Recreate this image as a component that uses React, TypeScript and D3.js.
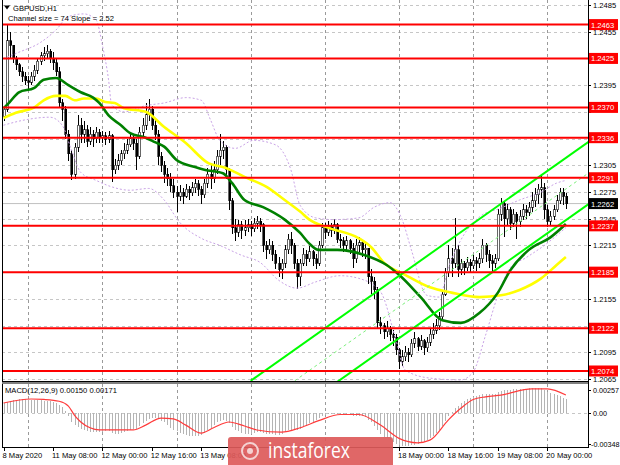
import React from 'react';
import * as d3 from 'd3';

// GBPUSD H1, 8 May 2020 16:00 .. 20 May 2020 06:00 (one value per hourly bar)
const firstOpen = 1.2360;
const closes = [
  1.2368, 1.2445, 1.2440, 1.2425, 1.2418, 1.2410, 1.2405, 1.2400, 1.2398, 1.2405,
  1.2412, 1.2422, 1.2428, 1.2430, 1.2433, 1.2425, 1.2420, 1.2410, 1.2375, 1.2368,
  1.2340, 1.2318, 1.2295, 1.2325, 1.2350, 1.2340, 1.2345, 1.2332, 1.2340, 1.2335,
  1.2342, 1.2336, 1.2338, 1.2334, 1.2338, 1.2300, 1.2305, 1.2310, 1.2318, 1.2322,
  1.2328, 1.2335, 1.2330, 1.2315, 1.2342, 1.2350, 1.2362, 1.2368, 1.2350, 1.2340,
  1.2315, 1.2305, 1.2295, 1.2290, 1.2282, 1.2275, 1.2270, 1.2275, 1.2270, 1.2278,
  1.2274, 1.2280, 1.2284, 1.2278, 1.2272, 1.2285, 1.2295, 1.2290, 1.2300, 1.2315,
  1.2322, 1.2325, 1.2300, 1.2265, 1.2235, 1.2230, 1.2238, 1.2232, 1.2235, 1.2238,
  1.2234, 1.2240, 1.2242, 1.2238, 1.2215, 1.2210, 1.2215, 1.2205, 1.2195, 1.2188,
  1.2195, 1.2210, 1.2222, 1.2215, 1.2195, 1.2180, 1.2195, 1.2205, 1.2200, 1.2208,
  1.2200, 1.2195, 1.2215, 1.2235, 1.2230, 1.2236, 1.2232, 1.2238, 1.2222, 1.2220,
  1.2215, 1.2220, 1.2212, 1.2200, 1.2215, 1.2218, 1.2210, 1.2212, 1.2180, 1.2175,
  1.2165, 1.2128, 1.2125, 1.2118, 1.2122, 1.2115, 1.2112, 1.2098, 1.2085, 1.2090,
  1.2095, 1.2092, 1.2105, 1.2110, 1.2102, 1.2108, 1.2100, 1.2106, 1.2115, 1.2120,
  1.2125, 1.2135, 1.2160, 1.2185, 1.2200, 1.2195, 1.2210, 1.2188, 1.2195, 1.2190,
  1.2196, 1.2192, 1.2198, 1.2195, 1.2200, 1.2215, 1.2205, 1.2198, 1.2195, 1.2200,
  1.2250, 1.2262, 1.2245, 1.2255, 1.2240, 1.2250, 1.2242, 1.2248, 1.2255, 1.2252,
  1.2258, 1.2265, 1.2272, 1.2278, 1.2280, 1.2255, 1.2242, 1.2248, 1.2255, 1.2265,
  1.2275, 1.2270, 1.2262,
];
const highs = [
  1.2372, 1.2462, 1.2455, 1.2440, 1.2428, 1.2420, 1.2415, 1.2410, 1.2405, 1.2410,
  1.2418, 1.2426, 1.2432, 1.2438, 1.2440, 1.2436, 1.2432, 1.2425, 1.2415, 1.2380,
  1.2372, 1.2345, 1.2322, 1.2330, 1.2362, 1.2358, 1.2355, 1.2350, 1.2348, 1.2345,
  1.2348, 1.2346, 1.2344, 1.2342, 1.2344, 1.2340, 1.2312, 1.2318, 1.2322, 1.2330,
  1.2334, 1.2340, 1.2338, 1.2335, 1.2348, 1.2358, 1.2375, 1.2380, 1.2372, 1.2356,
  1.2345, 1.2320, 1.2310, 1.2302, 1.2296, 1.2290, 1.2282, 1.2283, 1.2280, 1.2284,
  1.2282, 1.2286, 1.2290, 1.2288, 1.2282, 1.2290, 1.2302, 1.2305, 1.2310, 1.2322,
  1.2340, 1.2332, 1.2328, 1.2302, 1.2268, 1.2245, 1.2244, 1.2242, 1.2243, 1.2245,
  1.2242, 1.2246, 1.2248, 1.2246, 1.2240, 1.2220, 1.2222, 1.2220, 1.2210, 1.2202,
  1.2200, 1.2215, 1.2228, 1.2230, 1.2218, 1.2200, 1.2200, 1.2212, 1.2210, 1.2214,
  1.2210, 1.2205, 1.2220, 1.2240, 1.2240, 1.2242, 1.2240, 1.2245, 1.2240, 1.2228,
  1.2225, 1.2226, 1.2222, 1.2218, 1.2222, 1.2225, 1.2220, 1.2218, 1.2212, 1.2188,
  1.2180, 1.2168, 1.2135, 1.2128, 1.2130, 1.2125, 1.2120, 1.2115, 1.2100, 1.2098,
  1.2102, 1.2100, 1.2110, 1.2118, 1.2112, 1.2114, 1.2110, 1.2112, 1.2122, 1.2128,
  1.2132, 1.2140, 1.2165, 1.2190, 1.2215, 1.2212, 1.2246, 1.2215, 1.2200, 1.2198,
  1.2202, 1.2200, 1.2204, 1.2202, 1.2206, 1.2222, 1.2218, 1.2210, 1.2204, 1.2205,
  1.2256, 1.2268, 1.2265, 1.2262, 1.2258, 1.2256, 1.2252, 1.2255, 1.2262, 1.2260,
  1.2264, 1.2275, 1.2280, 1.2284, 1.2294, 1.2285, 1.2260, 1.2254, 1.2260, 1.2272,
  1.2280, 1.2280, 1.2274,
];
const lows = [
  1.2355, 1.2365, 1.2425, 1.2420, 1.2412, 1.2405, 1.2398, 1.2395, 1.2390, 1.2395,
  1.2400, 1.2408, 1.2418, 1.2422, 1.2425, 1.2420, 1.2412, 1.2405, 1.2370, 1.2355,
  1.2335, 1.2310, 1.2288, 1.2290, 1.2320, 1.2330, 1.2330, 1.2325, 1.2328, 1.2325,
  1.2330, 1.2330, 1.2330, 1.2328, 1.2330, 1.2286, 1.2295, 1.2300, 1.2305, 1.2312,
  1.2318, 1.2325, 1.2322, 1.2300, 1.2312, 1.2338, 1.2345, 1.2355, 1.2345, 1.2333,
  1.2305, 1.2298, 1.2285, 1.2282, 1.2275, 1.2268, 1.2252, 1.2265, 1.2262, 1.2268,
  1.2266, 1.2270, 1.2274, 1.2270, 1.2262, 1.2268, 1.2280, 1.2278, 1.2285, 1.2295,
  1.2305, 1.2312, 1.2290, 1.2255, 1.2228, 1.2220, 1.2225, 1.2222, 1.2226, 1.2230,
  1.2226, 1.2230, 1.2234, 1.2230, 1.2208, 1.2200, 1.2205, 1.2198, 1.2188, 1.2180,
  1.2177, 1.2190, 1.2205, 1.2205, 1.2188, 1.2166, 1.2170, 1.2192, 1.2192, 1.2196,
  1.2192, 1.2188, 1.2192, 1.2212, 1.2222, 1.2226, 1.2225, 1.2228, 1.2218, 1.2212,
  1.2208, 1.2210, 1.2205, 1.2190, 1.2195, 1.2208, 1.2202, 1.2200, 1.2172, 1.2160,
  1.2155, 1.2122, 1.2115, 1.2110, 1.2112, 1.2108, 1.2102, 1.2092, 1.2076, 1.2080,
  1.2085, 1.2084, 1.2090, 1.2100, 1.2096, 1.2098, 1.2092, 1.2095, 1.2102, 1.2110,
  1.2115, 1.2120, 1.2132, 1.2158, 1.2180, 1.2180, 1.2190, 1.2180, 1.2182, 1.2182,
  1.2186, 1.2185, 1.2188, 1.2186, 1.2190, 1.2195, 1.2196, 1.2190, 1.2186, 1.2190,
  1.2198, 1.2242, 1.2225, 1.2238, 1.2232, 1.2236, 1.2222, 1.2236, 1.2244, 1.2245,
  1.2248, 1.2252, 1.2258, 1.2262, 1.2268, 1.2245, 1.2236, 1.2238, 1.2244, 1.2252,
  1.2262, 1.2260, 1.2256,
];

// horizontal support / resistance levels
const levels = [1.2463, 1.2425, 1.2370, 1.2336, 1.2291, 1.2237, 1.2185, 1.2122, 1.2074];
const lastPrice = 1.2262;
const priceTicks = [
  1.2485, 1.2455, 1.2425, 1.2395, 1.2365, 1.2335, 1.2305, 1.2275,
  1.2245, 1.2215, 1.2185, 1.2155, 1.2125, 1.2095, 1.2065,
];

// time labels that are not hidden by the watermark
const timeLabels = [
  '8 May 2020', '11 May 08:00', '12 May 00:00', '12 May 16:00', '13 May 08:00',
  '18 May 00:00', '18 May 16:00', '19 May 08:00', '20 May 00:00',
];
const timeLabelBars = [0, 16, 32, 48, 64, 128, 144, 160, 176];
const dayStartBars = [8, 32, 56, 80, 104, 128, 152, 176];

// moving averages, read as [bar, price]
const maGreen: [number, number][] = [
  [0, 1.2369], [2, 1.2376], [5, 1.2387], [10, 1.2392], [13, 1.2401], [17, 1.2403], [21, 1.2395],
  [25, 1.2387], [29, 1.2381], [31, 1.2375], [34, 1.2361], [38, 1.2350], [41, 1.2341], [46, 1.2336],
  [49, 1.2331], [52, 1.2326], [56, 1.2311], [62, 1.2303], [65, 1.2300], [71, 1.2296], [74, 1.2285],
  [78, 1.2266], [84, 1.2258], [91, 1.2244], [96, 1.2229], [99, 1.2217], [102, 1.2210], [108, 1.2210],
  [117, 1.2204], [124, 1.2193], [128, 1.2182], [135, 1.2157], [142, 1.2131], [148, 1.2128],
  [154, 1.2139], [160, 1.2162], [164, 1.2187], [170, 1.2210], [177, 1.2224], [182, 1.2239],
];
const maYellow: [number, number][] = [
  [0, 1.2358], [4, 1.2364], [10, 1.2370], [13, 1.2378], [17, 1.2383], [20, 1.2383], [23, 1.2378],
  [26, 1.2380], [30, 1.2380], [33, 1.2376], [36, 1.2375], [39, 1.2369], [46, 1.2365], [52, 1.2348],
  [59, 1.2330], [66, 1.2308], [72, 1.2302], [78, 1.2292], [85, 1.2281], [91, 1.2266], [96, 1.2253],
  [99, 1.2244], [105, 1.2235], [115, 1.2223], [119, 1.2213], [123, 1.2196], [130, 1.2182],
  [138, 1.2168], [145, 1.2162], [154, 1.2157], [161, 1.2159], [167, 1.2165], [174, 1.2178],
  [179, 1.2193], [182, 1.2202],
];
// dotted bands, [bar, price]
const bandUpper: [number, number][] = [
  [0, 1.2425], [5, 1.2432], [12, 1.2443], [17, 1.2457], [21, 1.2472], [26, 1.2475], [30, 1.2468],
  [32, 1.2440], [34, 1.2401], [35, 1.2373], [39, 1.2365], [46, 1.2372], [52, 1.2375], [59, 1.2381],
  [64, 1.2378], [67, 1.2356], [70, 1.2333], [75, 1.2324], [81, 1.2333], [88, 1.2328], [93, 1.2300],
  [96, 1.2260], [101, 1.2246], [107, 1.2244], [115, 1.2246], [120, 1.2258], [125, 1.2263],
  [129, 1.2244], [132, 1.2210], [137, 1.2159], [141, 1.2157], [144, 1.2190], [149, 1.2227],
  [154, 1.2247], [161, 1.2257], [167, 1.2266], [174, 1.2275], [179, 1.2285], [182, 1.2288],
];
const bandLower: [number, number][] = [
  [0, 1.2350], [7, 1.2356], [15, 1.2359], [19, 1.2350], [22, 1.2322], [25, 1.2297], [30, 1.2288],
  [34, 1.2282], [41, 1.2277], [47, 1.2279], [52, 1.2266], [57, 1.2241], [64, 1.2223], [70, 1.2215],
  [77, 1.2204], [83, 1.2196], [89, 1.2176], [95, 1.2167], [101, 1.2174], [109, 1.2181],
  [115, 1.2178], [122, 1.2163], [127, 1.2109], [130, 1.2075], [138, 1.2066], [148, 1.2064],
  [152, 1.2073], [156, 1.2114], [160, 1.2159], [164, 1.2190], [169, 1.2201], [175, 1.2215],
  [182, 1.2235],
];
// regression channel: upper edge at two bars, width in price
const channelBars = [80, 190];
const channelTop = [1.2063, 1.2333];
const channelWidth = 0.0070;

// MACD(12,26,9): main line per bar and signal, in units of 0.0001
const macdMain = [
  11, 12, 13, 14, 14, 15, 15, 15, 14, 14,
  14, 14, 14, 13, 13, 13, 12, 11, 9, 6,
  2, -4, -10, -14, -16, -18, -20, -21, -22, -22,
  -22, -22, -22, -21, -21, -23, -24, -24, -23, -22,
  -21, -19, -18, -18, -15, -12, -9, -7, -6, -6,
  -7, -9, -11, -14, -17, -19, -21, -23, -24, -25,
  -26, -26, -26, -26, -25, -23, -20, -17, -14, -11,
  -9, -8, -9, -12, -16, -19, -21, -23, -24, -24,
  -24, -23, -22, -22, -23, -24, -24, -24, -25, -25,
  -24, -22, -20, -19, -19, -19, -18, -16, -14, -12,
  -10, -8, -6, -4, -3, -2, -2, -2, -2, -3,
  -3, -3, -3, -4, -4, -4, -4, -5, -8, -11,
  -15, -20, -24, -27, -29, -31, -33, -35, -37, -38,
  -38, -38, -37, -36, -35, -34, -33, -31, -29, -26,
  -23, -19, -15, -9, -4, 1, 5, 8, 11, 13,
  15, 17, 18, 19, 20, 21, 21, 21, 21, 21,
  23, 25, 26, 26, 26, 27, 27, 27, 27, 27,
  28, 28, 28, 28, 28, 26, 24, 22, 21, 20,
  19, 17, 15,
];
const macdSignal: [number, number][] = [
  [0, 11], [9, 15.5], [13, 15], [18, 13], [21, 7.5], [23, -3], [25, -10.5], [28, -17], [31, -19.5],
  [42, -19.5], [46, -14], [51, -6], [55, -7], [59, -14], [64, -23], [68, -17], [73, -10.5], [78, -15],
  [82, -19.5], [90, -22], [96, -17], [102, -9], [109, -2], [115, -2], [122, -14], [128, -29],
  [134, -34], [138, -31], [144, -8], [148, 5], [152, 15], [156, 18], [161, 20], [171, 27], [176, 27],
  [182, 20],
];
const macdTicks = [0.00257, 0, -0.00348];
const macdTickLabels = ['0.00257', '0.00', '-0.00348'];

const FONT = 'Liberation Sans, Arial, sans-serif';

export default function App() {
  const W = 620;
  const H = 465;
  const left = 2;
  const right = 588;
  const mainTop = 0;
  const mainBottom = 381;
  const macdTop = 384;
  const macdBottom = 447;
  const n = closes.length;

  const x = d3.scaleLinear().domain([0, n - 1]).range([3.5, 3.5 + 3.09 * (n - 1)]);
  const y = d3.scaleLinear().domain([1.2065, 1.2485]).range([379, 5]);
  const ym = d3.scaleLinear().domain([-0.00348, 0.00257]).range([443.5, 390]);

  const curve = d3.line<[number, number]>()
    .x(d => x(d[0]))
    .y(d => y(d[1]))
    .curve(d3.curveMonotoneX);
  const sigLine = d3.line<[number, number]>()
    .x(d => x(d[0]))
    .y(d => ym(d[1] * 1e-4))
    .curve(d3.curveMonotoneX);

  const chan = (off: number) =>
    `M${x(channelBars[0])},${y(channelTop[0] - off)}L${x(channelBars[1])},${y(channelTop[1] - off)}`;

  // axis labels covered by the red / black price boxes are not shown
  const boxed = [...levels, lastPrice];
  const visibleTicks = priceTicks.filter(t => boxed.every(l => Math.abs(y(l) - y(t)) > 6));

  return (
    <div style={{ position: 'absolute', left: 0, top: 0 }}>
      <svg width={W} height={H} style={{ display: 'block', background: '#fff' }} fontFamily={FONT}>
        <defs>
          <clipPath id="mainClip">
            <rect x={left} y={mainTop} width={right - left} height={mainBottom - mainTop} />
          </clipPath>
          <clipPath id="macdClip">
            <rect x={left} y={macdTop} width={right - left} height={macdBottom - macdTop} />
          </clipPath>
        </defs>

        {/* grid */}
        <g stroke="#c6c6c6" strokeWidth={1} strokeDasharray="3,3" shapeRendering="crispEdges">
          {priceTicks.map(t => (
            <line key={t} x1={left} x2={right} y1={Math.round(y(t)) + 0.5} y2={Math.round(y(t)) + 0.5} />
          ))}
          {dayStartBars.map(b => (
            <g key={b}>
              <line x1={Math.round(x(b)) + 0.5} x2={Math.round(x(b)) + 0.5} y1={mainTop} y2={mainBottom} stroke="#9a9a9a" />
              <line x1={Math.round(x(b)) + 0.5} x2={Math.round(x(b)) + 0.5} y1={macdTop} y2={macdBottom} stroke="#9a9a9a" />
            </g>
          ))}
          <line x1={left} x2={right} y1={Math.round(ym(0)) + 0.5} y2={Math.round(ym(0)) + 0.5} />
        </g>

        <g clipPath="url(#mainClip)">
          {/* bid line */}
          <line x1={left} x2={right} y1={y(lastPrice)} y2={y(lastPrice)} stroke="#c0c0c0" strokeWidth={1} />

          {/* candles */}
          <g shapeRendering="crispEdges">
            {closes.map((c, i) => {
              const o = i === 0 ? firstOpen : closes[i - 1];
              const cx = Math.round(x(i));
              const top = Math.min(y(o), y(c));
              const h = Math.max(1, Math.abs(y(o) - y(c)));
              return (
                <g key={i}>
                  <line x1={cx + 0.5} x2={cx + 0.5} y1={y(highs[i])} y2={y(lows[i])} stroke="#000" strokeWidth={1} />
                  <rect x={cx - 0.5} y={top} width={2} height={h}
                    fill={c >= o ? '#fff' : '#000'} stroke="#000" strokeWidth={0.6} />
                </g>
              );
            })}
          </g>

          {/* dotted bands */}
          <g fill="none" stroke="#c9a3e6" strokeWidth={1} strokeDasharray="2,2">
            <path d={curve(bandUpper) || ''} />
            <path d={curve(bandLower) || ''} />
          </g>

          {/* moving averages */}
          <path d={curve(maYellow) || ''} fill="none" stroke="#ffff00" strokeWidth={2.6} />
          <path d={curve(maGreen) || ''} fill="none" stroke="#008000" strokeWidth={2.6} />

          {/* channel */}
          <path d={chan(0)} stroke="#00ff00" strokeWidth={2} fill="none" />
          <path d={chan(channelWidth)} stroke="#00ff00" strokeWidth={2} fill="none" />
          <path d={chan(channelWidth / 2)} stroke="#7cf07c" strokeWidth={1} strokeDasharray="3,3" fill="none" />

          {/* levels */}
          {levels.map(l => (
            <line key={l} x1={left} x2={right} y1={y(l)} y2={y(l)} stroke="#ff0000" strokeWidth={2} />
          ))}
        </g>

        {/* MACD */}
        <g clipPath="url(#macdClip)" shapeRendering="crispEdges">
          {macdMain.map((v, i) => (
            <line key={i} x1={Math.round(x(i)) + 0.5} x2={Math.round(x(i)) + 0.5}
              y1={ym(0)} y2={ym(v * 1e-4)} stroke="#b4b4b4" strokeWidth={1} />
          ))}
        </g>
        <path d={sigLine(macdSignal) || ''} fill="none" stroke="#ff3b3b" strokeWidth={1.2} clipPath="url(#macdClip)" />

        {/* frames */}
        <g fill="none" stroke="#000" strokeWidth={1} shapeRendering="crispEdges">
          <line x1={left + 0.5} x2={left + 0.5} y1={0} y2={macdBottom} />
          <line x1={right + 0.5} x2={right + 0.5} y1={0} y2={macdBottom + 0.5} />
          <line x1={left} x2={right} y1={mainBottom + 0.5} y2={mainBottom + 0.5} />
          <line x1={left} x2={right} y1={macdTop - 0.5} y2={macdTop - 0.5} />
          <line x1={left} x2={right + 1} y1={macdBottom + 0.5} y2={macdBottom + 0.5} />
        </g>
        <rect x={left} y={mainBottom + 1} width={right - left} height={2} fill="#808080" />

        {/* price axis */}
        <g fontSize={7.6} fill="#000">
          {priceTicks.map(t => (
            <line key={t} x1={right} x2={right + 3} y1={Math.round(y(t)) + 0.5} y2={Math.round(y(t)) + 0.5} stroke="#000" />
          ))}
          {visibleTicks.map(t => (
            <text key={t} x={right + 5} y={y(t) + 3}>{t.toFixed(4)}</text>
          ))}
          {levels.map(l => (
            <g key={l}>
              <rect x={right + 1} y={y(l) - 5.5} width={29} height={11} fill="#ff0000" />
              <text x={right + 3} y={y(l) + 3} fill="#fff">{l.toFixed(4)}</text>
            </g>
          ))}
          <rect x={right + 1} y={y(lastPrice) - 5.5} width={29} height={11} fill="#000" />
          <text x={right + 3} y={y(lastPrice) + 3} fill="#fff">{lastPrice.toFixed(4)}</text>
        </g>

        {/* MACD axis */}
        <g fontSize={7.2} fill="#000">
          {macdTicks.map((t, i) => (
            <g key={t}>
              <line x1={right} x2={right + 3} y1={Math.round(ym(t)) + 0.5} y2={Math.round(ym(t)) + 0.5} stroke="#000" />
              <text x={t < 0 ? right + 3 : right + 5} y={ym(t) + 3}>{macdTickLabels[i]}</text>
            </g>
          ))}
        </g>

        {/* time axis */}
        <g fontSize={7.6} fill="#000">
          {timeLabelBars.map((b, i) => (
            <g key={b}>
              <line x1={Math.round(x(b)) + 0.5} x2={Math.round(x(b)) + 0.5} y1={macdBottom} y2={macdBottom + 4} stroke="#000" />
              <text x={x(b) - 1} y={458}>{timeLabels[i]}</text>
            </g>
          ))}
        </g>

        {/* titles */}
        <path d="M4,5.5L10,5.5L7,9.5Z" fill="#000" />
        <text x={13} y={10.5} fontSize={7.6}>GBPUSD,H1</text>
        <text x={8} y={21} fontSize={7.6}>Channel size = 74 Slope = 2.52</text>
        <text x={5} y={393} fontSize={7.6}>MACD(12,26,9) 0.00150 0.00171</text>

        {/* watermark */}
        <g>
          <rect x={228} y={437} width={165} height={32} rx={3} fill="#dd5a5a" opacity={0.92} />
          <g fill="#f4d2d2">
            <circle cx={250} cy={451} r={8} fill="none" stroke="#f4d2d2" strokeWidth={2} />
            <circle cx={250} cy={451} r={3} />
          </g>
          <text x={268} y={458} fontSize={21} fill="#fff" fontFamily="Open Sans, sans-serif"
            textLength={82} lengthAdjust="spacingAndGlyphs">instaforex</text>
        </g>
      </svg>
    </div>
  );
}
